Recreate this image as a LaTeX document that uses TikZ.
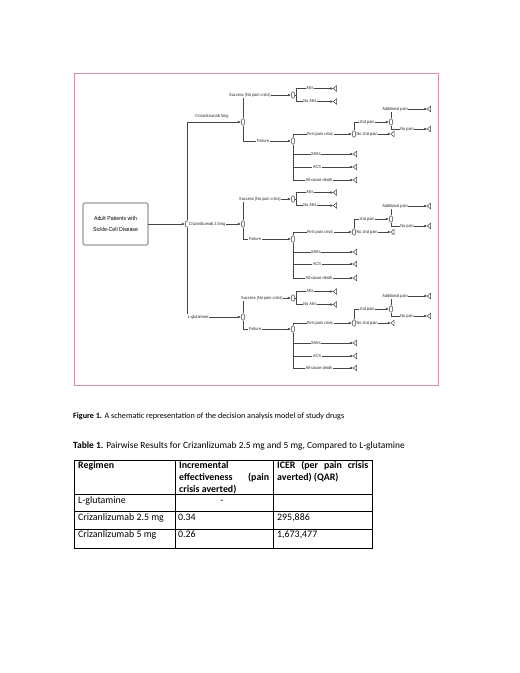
\documentclass[tikz,border=0pt]{standalone}
\usepackage{fontspec}
\usetikzlibrary{shapes.geometric,arrows.meta}
\newfontfamily\treefnt[FakeStretch=0.9]{Liberation Sans}
\newfontfamily\calfnt{Carlito}
\newcommand\treesz{\treefnt\fontsize{4.3}{5}\selectfont}
\newcommand\boxsz{\treefnt\fontsize{5.8}{11.5}\selectfont}
\newcommand\tabsz{\calfnt\fontsize{9.9}{11.8}\selectfont}
\newcommand\capsz{\calfnt\fontsize{8.12}{9}\selectfont}
\newcommand\ttlsz{\calfnt\fontsize{9.45}{11}\selectfont}
\definecolor{lc}{RGB}{70,70,70}
\definecolor{frm}{RGB}{214,143,176}
\tikzset{
  ch/.style={ellipse, draw=lc, line width=0.5pt, minimum width=3.6pt, minimum height=6.6pt, inner sep=0pt, fill=white},
  term/.style={rectangle, minimum width=3pt, minimum height=5.5pt, inner sep=0pt},
  tri/.style={draw=lc, line width=0.5pt, line join=round},
  arr/.style={draw=lc, line width=0.5pt, -{Latex[length=3pt,width=2.6pt]}},
  lab/.style={font=\treesz, fill=white, inner sep=0.6pt, text=black!85},
  cell/.style={font=\tabsz, anchor=base west, inner sep=0pt},
  hcell/.style={cell, font=\tabsz\bfseries},
}
\begin{document}
\begin{tikzpicture}[x=1pt,y=-1pt]
\path[fill=white, use as bounding box] (0,0) rectangle (520,673);
\draw[frm, line width=1pt] (74,73) rectangle (438,385);

% root and decision
\node[draw=lc, line width=0.6pt, rounded corners=1.5pt, minimum width=65pt, minimum height=42pt, align=center, font=\boxsz] (root) at (115.5,224) {Adult Patients with\\Sickle-Cell Disease};
\node[ch] (r) at (187,224) {};
\node[ch] (d1) at (243,122) {};
\node[ch] (d2) at (243,224) {};
\node[ch] (d3) at (243,317) {};
\draw[arr] (root) -- (r);
\draw[arr] (r.north) |- (d1);
\draw[arr] (r) -- (d2);
\draw[arr] (r.south) |- (d3);
\node[font=\treesz, text=black!85, inner sep=0.6pt] (l1) at (212,116) {Crizanlizumab 5mg};
\node[lab] (l2) at (207,224) {Crizanlizumab 2.5mg};
\node[lab] (l3) at (198,317) {L-glutamine};

\foreach \p/\ys/\yf/\yfp/\ysa/\yac/\yad/\yt/\sx/\fx in
  {1/95/141/134/154/167/180/122/250/263,
   2/199/239/232/252/264/278/219/260/255,
   3/298/329/323/343/356/368/309/262/255}{
  \node[ch] (s\p) at (293,\ys) {};
  \node[ch] (f\p) at (293,\yf) {};
  \node[ch] (c\p) at (354,\yfp) {};
  \node[ch] (cc\p) at (391,\yt) {};
  \node[term] (ae\p) at (335,\ys-6.5) {};
  \node[term] (nae\p) at (335,\ys+6.5) {};
  \node[term] (sae\p) at (355,\ysa) {};
  \node[term] (acs\p) at (355,\yac) {};
  \node[term] (acd\p) at (355,\yad) {};
  \node[term] (nt\p) at (392.5,\yfp) {};
  \node[term] (ta\p) at (429,\yt-13) {};
  \node[term] (tn\p) at (429,\yt+7) {};
  \foreach \t in {ae,nae,sae,acs,acd,nt,ta,tn}
    \draw[tri] (\t\p.west) -- (\t\p.north east) -- (\t\p.south east) -- cycle;
  \draw[arr] (d\p.north) |- (s\p);
  \draw[arr] (d\p.south) |- (f\p);
  \draw[arr] (s\p.east) -- ++(1.5,0) |- (ae\p);
  \draw[arr] (s\p.east) -- ++(1.5,0) |- (nae\p);
  \draw[arr] (f\p.north) |- (c\p);
  \draw[arr] (f\p.south) |- (sae\p);
  \draw[arr] (f\p.south) |- (acs\p);
  \draw[arr] (f\p.south) |- (acd\p);
  \draw[arr] (c\p.north) |- (cc\p);
  \draw[arr] (c\p) -- (nt\p);
  \draw[arr] (cc\p.north) |- (ta\p);
  \draw[arr] (cc\p.south) |- (tn\p);
  \node[lab] (ls\p) at (\sx,\ys) {Success (No pain crisis)};
  \node[lab] (la\p) at (310,\ys-6.5) {AEs};
  \node[lab] (lna\p) at (310,\ys+6.5) {No AEs};
  \node[lab] (lf\p) at (\fx,\yf) {Failure};
  \node[lab] (lp\p) at (320,\yfp) {First pain crisis};
  \node[lab] (lsa\p) at (316,\ysa) {SAEs};
  \node[lab] (lac\p) at (317,\yac) {ACS};
  \node[lab] (lad\p) at (319,\yad) {All-cause death};
  \node[lab] (l2p\p) at (367,\yt) {2nd pain};
  \node[lab] (ln2\p) at (367,\yfp) {No 2nd pain};
  \node[lab] (lap\p) at (395,\yt-13) {Additional pain};
  \node[lab] (lnp\p) at (407,\yt+7) {No pain};
}

% caption
\node[font=\capsz, anchor=base west, inner sep=0pt] (cap) at (73,418.5) {\textbf{Figure 1.} A schematic representation of the decision analysis model of study drugs};
\node[font=\ttlsz, anchor=base west, inner sep=0pt] (ttl) at (73,448) {\textbf{Table 1.} Pairwise Results for Crizanlizumab 2.5 mg and 5 mg, Compared to L-glutamine};

% table
\draw[line width=0.9pt] (74,460) rectangle (372,548);
\draw[line width=0.7pt] (175,460) -- (175,548) (273,460) -- (273,548)
  (74,494) -- (372,494) (74,511) -- (372,511) (74,529) -- (372,529);
\node[hcell] (h1) at (78,468.5) {Regimen};
\node[hcell] (h2a) at (179,468.5) {Incremental};
\node[hcell] (h2b) at (179,480.3) {\makebox[90pt][s]{effectiveness (pain}};
\node[hcell] (h2c) at (179,492) {crisis averted)};
\node[hcell] (h3a) at (277,468.5) {\makebox[91pt][s]{ICER (per pain crisis}};
\node[hcell] (h3b) at (277,480.3) {averted) (QAR)};
\node[cell] (r1a) at (78,503.5) {L-glutamine};
\node[cell, anchor=base] (r1b) at (222,503.5) {-};
\node[cell] (r2a) at (78,520.5) {Crizanlizumab 2.5 mg};
\node[cell] (r2b) at (178,520.5) {0.34};
\node[cell] (r2c) at (277,520.5) {295,886};
\node[cell] (r3a) at (78,537.5) {Crizanlizumab 5 mg};
\node[cell] (r3b) at (178,537.5) {0.26};
\node[cell] (r3c) at (277,537.5) {1,673,477};
\end{tikzpicture}
\end{document}
